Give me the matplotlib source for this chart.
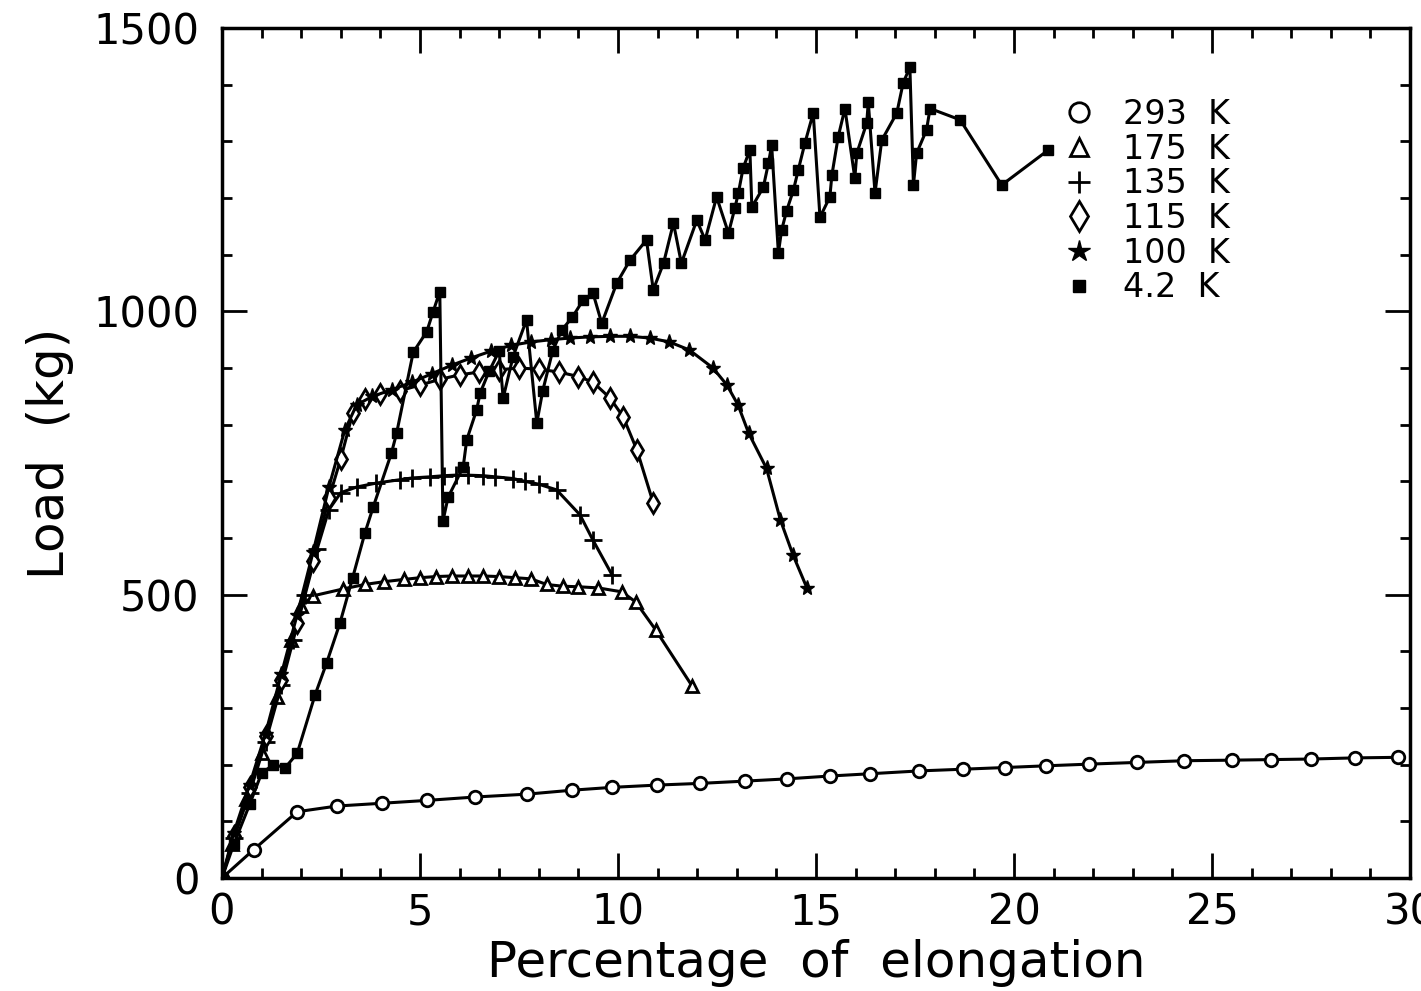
import numpy as np
import matplotlib
matplotlib.use('Agg')
from matplotlib import pyplot as plt
from matplotlib.lines import Line2D
from matplotlib.ticker import MultipleLocator

# Данные
x_293 = [0, 0.8, 1.9, 2.9, 4.05, 5.18, 6.4, 7.7, 8.84, 9.85, 10.98, 12.07, 13.2, 14.27, 15.35,
         16.36, 17.6, 18.7, 19.77, 20.8, 21.9, 23.1, 24.3, 25.5, 26.5, 27.5, 28.6, 29.7]
y_293 = [0, 50, 117, 127, 132, 137, 143, 148, 155, 160, 164, 167, 171, 175, 180,
         184, 189, 192, 195, 198, 201, 204, 207, 208, 209, 210, 212, 213]

x_175 = [0, 0.25, 0.6, 1.0, 1.4, 1.75, 2.0, 2.3, 3.05, 3.6, 4.1, 4.6, 5.0, 5.4, 5.8, 6.2, 6.6,
         7.0, 7.4, 7.8, 8.2, 8.6, 9.0, 9.5, 10.1, 10.45, 10.95, 11.87]
y_175 = [0, 60, 140, 220, 320, 420, 480, 498, 510, 518, 523, 527, 530, 532, 533, 533, 533,
         532, 530, 528, 518, 515, 514, 512, 505, 487, 438, 339]

x_135 = [0, 0.3, 0.7, 1.1, 1.5, 1.8, 2.1, 2.4, 2.7, 3.0, 3.4, 3.9, 4.5, 4.8, 5.25, 5.6, 5.9,
         6.2, 6.6, 6.9, 7.35, 7.65, 8.0, 8.45, 9.04, 9.37, 9.85]
y_135 = [0, 70, 150, 240, 340, 420, 500, 580, 650, 680, 690, 697, 703, 706, 708, 710, 711,
         711, 710, 708, 705, 700, 695, 685, 641, 596, 535]

x_115 = [0, 0.3, 0.7, 1.1, 1.5, 1.9, 2.3, 2.7, 3.0, 3.3, 3.6, 4.0, 4.5, 5.0, 5.5, 6.0, 6.5,
         7.0, 7.5, 8.0, 8.5, 9.0, 9.37, 9.8, 10.13, 10.48, 10.89]
y_115 = [0, 75, 160, 250, 350, 450, 560, 670, 740, 820, 845, 855, 860, 870, 880, 888, 893,
         897, 900, 898, 893, 885, 875, 847, 814, 755, 662]

x_100 = [0, 0.3, 0.7, 1.1, 1.5, 1.9, 2.3, 2.7, 3.1, 3.4, 3.8, 4.3, 4.8, 5.3, 5.8, 6.3, 6.8,
         7.3, 7.8, 8.3, 8.8, 9.3, 9.8, 10.3, 10.8, 11.3, 11.8, 12.4, 12.75, 13.03, 13.3,
         13.75, 14.1, 14.42, 14.77]
y_100 = [0, 80, 165, 255, 360, 465, 575, 690, 790, 835, 850, 862, 875, 890, 905, 918, 930,
         940, 946, 950, 953, 955, 956, 956, 953, 946, 932, 900, 870, 835, 785,
         723, 632, 570, 512]

x_4k = [0, 0.3, 0.7, 1.0, 1.3, 1.6, 1.9, 2.35, 2.64, 2.98, 3.3, 3.61, 3.82, 4.28, 4.41, 4.83,
        5.17, 5.33, 5.5, 5.58, 5.71, 6.09, 6.18, 6.43, 6.52, 6.75, 7.0, 7.1, 7.35, 7.69, 7.95,
        8.1, 8.35, 8.58, 8.85, 9.12, 9.37, 9.59, 9.97, 10.3, 10.72, 10.89, 11.15, 11.4, 11.6,
        11.99, 12.2, 12.49, 12.79, 12.95, 13.04, 13.16, 13.33, 13.38, 13.67, 13.8, 13.88,
        14.05, 14.13, 14.26, 14.43, 14.55, 14.72, 14.93, 15.1, 15.35, 15.4, 15.56, 15.73,
        15.98, 16.03, 16.28, 16.32, 16.49, 16.66, 17.04, 17.2, 17.37, 17.46, 17.54, 17.79,
        17.88, 18.64, 19.69, 20.87]
y_4k = [0, 60, 130, 185, 200, 195, 220, 323, 379, 450, 530, 609, 655, 750, 785, 928,
        964, 999, 1035, 630, 672, 725, 773, 826, 856, 895, 930, 847, 920, 985, 803,
        860, 930, 967, 990, 1020, 1032, 979, 1050, 1090, 1126, 1038, 1085, 1156, 1085,
        1161, 1126, 1202, 1138, 1182, 1209, 1253, 1285, 1184, 1219, 1262, 1293,
        1103, 1143, 1178, 1214, 1249, 1297, 1350, 1166, 1202, 1240, 1308, 1358,
        1235, 1279, 1332, 1369, 1209, 1302, 1350, 1403, 1431, 1223, 1279, 1320,
        1358, 1338, 1223, 1285]

labels = ['293  K', '175  K', '135  K', '115  K', '100  K', '4.2  K']

plt.rcParams['font.family'] = ['DejaVu Sans']

fig = plt.figure(figsize=(14.21, 9.91), dpi=100)
ax = fig.add_axes([0.1562, 0.114, 0.8361, 0.8577])

lw = 2.2
ax.plot(x_293, y_293, color='k', lw=lw, marker='o', ms=9, mfc='white', mec='k', mew=2)
ax.plot(x_175, y_175, color='k', lw=lw, marker='^', ms=9, mfc='white', mec='k', mew=2)
ax.plot(x_135, y_135, color='k', lw=lw, marker='+', ms=13, mec='k', mew=2)
ax.plot(x_115, y_115, color='k', lw=lw, marker='d', ms=10, mfc='white', mec='k', mew=2)
ax.plot(x_100, y_100, color='k', lw=lw, marker='*', ms=11, mfc='k', mec='k', mew=1)
ax.plot(x_4k, y_4k, color='k', lw=lw, marker='s', ms=7, mfc='k', mec='k')

# Легенда
handles = [
    Line2D([], [], ls='none', marker='o', ms=14, mfc='white', mec='k', mew=2),
    Line2D([], [], ls='none', marker='^', ms=13, mfc='white', mec='k', mew=2),
    Line2D([], [], ls='none', marker='+', ms=16, mec='k', mew=2),
    Line2D([], [], ls='none', marker='d', ms=15, mfc='white', mec='k', mew=2),
    Line2D([], [], ls='none', marker='*', ms=16, mfc='k', mec='k'),
    Line2D([], [], ls='none', marker='s', ms=9, mfc='k', mec='k'),
]
ax.legend(handles, labels, loc='upper left', bbox_to_anchor=(0.688, 0.945), frameon=False,
          fontsize=24, handlelength=1.0, handletextpad=0.8, labelspacing=0.05,
          borderpad=0.2)

ax.set_xlim(0, 30)
ax.set_ylim(0, 1500)
ax.xaxis.set_major_locator(MultipleLocator(5))
ax.xaxis.set_minor_locator(MultipleLocator(1))
ax.yaxis.set_major_locator(MultipleLocator(500))
ax.yaxis.set_minor_locator(MultipleLocator(100))
ax.tick_params(which='both', direction='in', top=True, right=True, width=2, color='k')
ax.tick_params(which='major', length=18, labelsize=30)
ax.tick_params(axis='x', which='major', pad=10)
ax.tick_params(axis='y', which='major', pad=16)
ax.tick_params(which='minor', length=7)
for s in ax.spines.values():
    s.set_linewidth(2.5)

ax.set_xlabel('Percentage  of  elongation', fontsize=36, labelpad=4)
ax.set_ylabel('Load  (kg)', fontsize=36, labelpad=14)

fig.savefig('out.png', dpi=100)
